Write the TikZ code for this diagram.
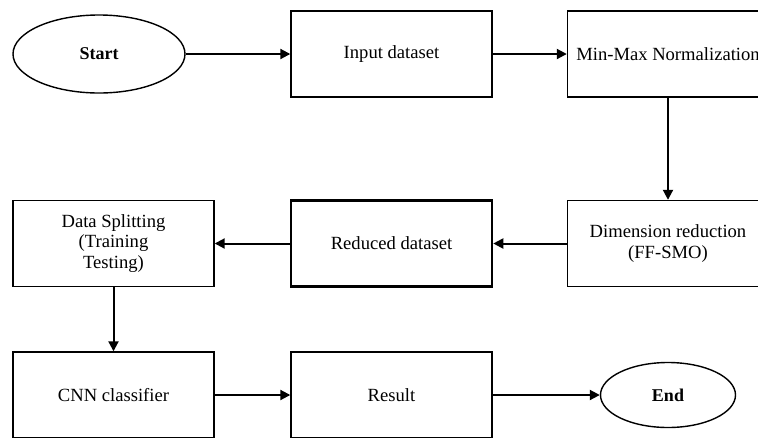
\documentclass[tikz,border=0pt]{standalone}
\usepackage{fontspec}
\setmainfont{Liberation Serif}
\usetikzlibrary{arrows.meta,shapes.geometric}
\begin{document}
\begin{tikzpicture}[x=1pt,y=-1pt,
  box/.style={draw,line width=1.4pt,minimum width=201pt,minimum height=86pt,inner sep=0pt,
    align=center,font=\fontsize{18.6}{20.5}\selectfont},
  term/.style={draw,ellipse,line width=1.4pt,inner sep=0pt,font=\fontsize{18}{20}\selectfont\bfseries},
  arr/.style={line width=2pt,-{Triangle[length=10pt,width=10pt]}}]
\useasboundingbox (0,0) rectangle (758,437);
\clip (0,0) rectangle (758,437);
\fill[white] (0,0) rectangle (758,437);
\node[term,minimum width=172pt,minimum height=78pt] (start) at (99,54) {Start};
\node[box] (input) at (391.5,54) {Input dataset};
\node[box] (minmax) at (668,54) {Min-Max Normalization};
\node[box] (dim) at (668,243.5) {Dimension reduction\\(FF-SMO)};
\node[box,line width=2.6pt] (reduced) at (391.5,243.5) {Reduced dataset};
\node[box] (split) at (113.5,243.5) {Data Splitting\\(Training\\Testing)};
\node[box] (cnn) at (113.5,395) {CNN classifier};
\node[box] (result) at (391.5,395) {Result};
\node[term,minimum width=135pt,minimum height=65pt] (end) at (668,395) {End};
\draw[arr] (start) -- (input);
\draw[arr] (input) -- (minmax);
\draw[arr] (minmax) -- (dim);
\draw[arr] (dim) -- (reduced);
\draw[arr] (reduced) -- (split);
\draw[arr] (split) -- (cnn);
\draw[arr] (cnn) -- (result);
\draw[arr] (result) -- (end);
\end{tikzpicture}
\end{document}
